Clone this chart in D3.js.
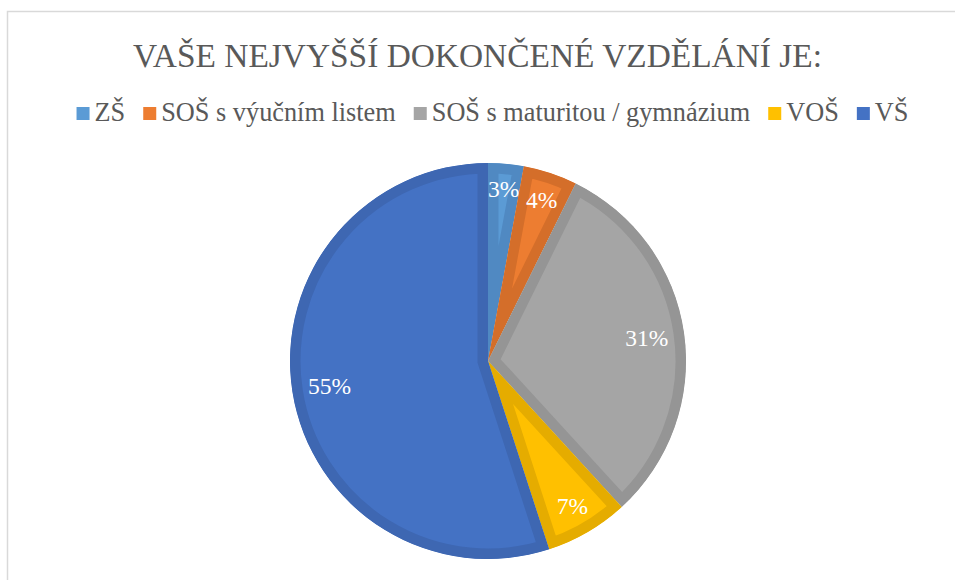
<!DOCTYPE html>
<html>
<head>
<meta charset="utf-8">
<script src="https://cdn.jsdelivr.net/npm/d3@7"></script>
<style>
  html, body { margin: 0; padding: 0; background: #fff; }
  svg { display: block; }
  svg text { font-family: "Liberation Serif", "DejaVu Serif", "Noto Serif", "Times New Roman", Times, "Nimbus Roman", "FreeSerif", Georgia, serif; }
</style>
</head>
<body>
<svg id="chart" width="955" height="580"></svg>
<script>
// ---- data ----
const title = "VAŠE NEJVYŠŠÍ DOKONČENÉ VZDĚLÁNÍ JE:";
const categories = ["ZŠ", "SOŠ s výučním listem", "SOŠ s maturitou / gymnázium", "VOŠ", "VŠ"];
const values = [2.9, 4.4, 30.9, 6.8, 55.0];
const labels = ["3%", "4%", "31%", "7%", "55%"];

// ---- styles ----
const fills = ["#5B9BD5", "#ED7D31", "#A5A5A5", "#FFC000", "#4472C4"];
const borders = ["#5089C2", "#D46E2A", "#959595", "#E5AC00", "#3E67B2"];
const textColor = "#595959";

const svg = d3.select("#chart");

// chart frame
svg.append("rect")
  .attr("x", 7.5).attr("y", 11.5)
  .attr("width", 1200).attr("height", 1200)
  .attr("fill", "#fff")
  .attr("stroke", "#d9d9d9").attr("stroke-width", 1.5);

// title
svg.append("text")
  .attr("x", 477.5).attr("y", 67)
  .attr("text-anchor", "middle")
  .attr("font-size", 33)
  .attr("textLength", 689)
  .attr("lengthAdjust", "spacingAndGlyphs")
  .attr("fill", textColor)
  .text(title);

// legend
const legendFont = 26.3, sq = 13, sqGap = 5, itemGap = 18;
const legendBaseline = 121;
const lg = svg.append("g");
const items = lg.selectAll("g.item").data(categories).enter().append("g").attr("class", "item");
items.append("rect")
  .attr("width", sq).attr("height", sq)
  .attr("y", legendBaseline - sq - 1)
  .attr("fill", (d, i) => fills[i]);
items.append("text")
  .attr("x", sq + sqGap).attr("y", legendBaseline)
  .attr("font-size", legendFont)
  .attr("fill", textColor)
  .text(d => d);
let widths = [];
items.each(function() {
  widths.push(d3.select(this).select("text").node().getComputedTextLength());
});
const total = d3.sum(widths) + categories.length * (sq + sqGap) + (categories.length - 1) * itemGap;
let x0 = 492.5 - total / 2;
items.attr("transform", (d, i) => {
  const x = x0;
  x0 += sq + sqGap + widths[i] + itemGap;
  return `translate(${x},0)`;
});

// pie
const cx = 488, cy = 361, R = 198;
const pie = d3.pie().sort(null).value(d => d);
const arcs = pie(values);
const arc = d3.arc().innerRadius(0).outerRadius(R);
const g = svg.append("g").attr("transform", `translate(${cx},${cy})`);
const defs = svg.append("defs");

arcs.forEach((a, i) => {
  defs.append("clipPath").attr("id", "clip" + i)
    .append("path").attr("d", arc(a));
});

g.selectAll("path.slice").data(arcs).enter().append("path")
  .attr("class", "slice")
  .attr("d", arc)
  .attr("fill", (d, i) => fills[i])
  .attr("stroke", (d, i) => borders[i])
  .attr("stroke-width", 21)
  .attr("stroke-linejoin", "miter")
  .attr("clip-path", (d, i) => `url(#clip${i})`);

// labels (inside end)
const labelFont = 23.5;
const lbl = g.selectAll("text.lbl").data(arcs).enter().append("text")
  .attr("class", "lbl")
  .attr("font-size", labelFont)
  .attr("fill", "#ffffff")
  .attr("text-anchor", "middle")
  .text((d, i) => labels[i]);
lbl.each(function(d) {
  const t = d3.select(this);
  const hw = this.getComputedTextLength() / 2;
  const hh = 8.5;
  const ang = (d.startAngle + d.endAngle) / 2;
  const s = Math.sin(ang), c = -Math.cos(ang);
  const r = R - 15 - (hw * Math.abs(s) + hh * Math.abs(c));
  t.attr("x", r * s).attr("y", r * c + 8);
});
</script>
</body>
</html>
